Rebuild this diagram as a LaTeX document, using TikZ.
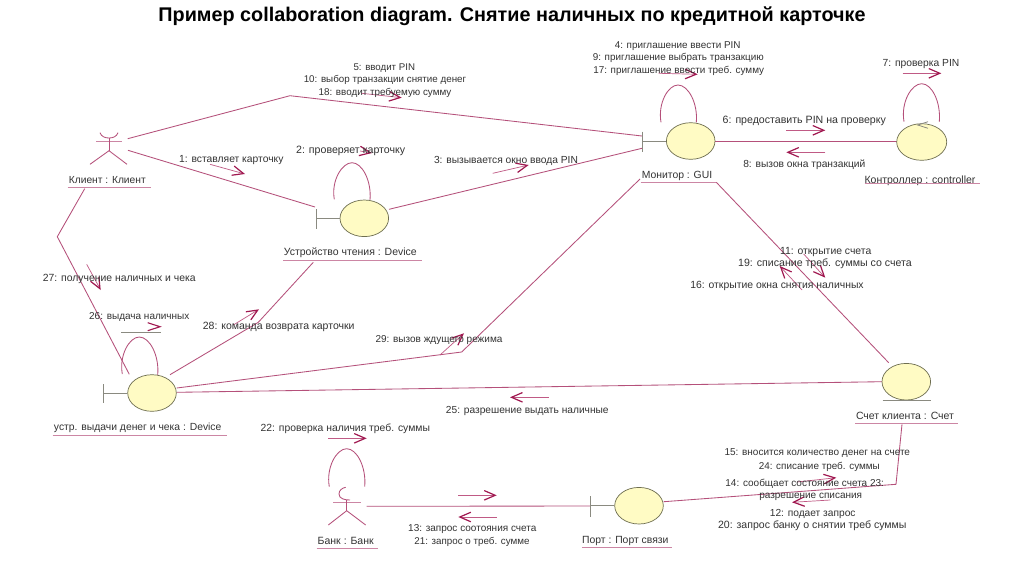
\documentclass[tikz,border=0pt]{standalone}
\usepackage{fontspec}
\setmainfont{Liberation Sans}
\usetikzlibrary{arrows.meta,shapes.geometric}
\definecolor{assocc}{HTML}{B5507A}
\definecolor{headc}{HTML}{A01850}
\definecolor{shaftc}{HTML}{C05A85}
\definecolor{fillc}{HTML}{FFFBC4}
\definecolor{edgec}{HTML}{6E6E50}
\definecolor{barc}{HTML}{8A8A80}
\definecolor{txtc}{HTML}{333333}
\definecolor{underc}{HTML}{CC86A4}
\tikzset{
  assoc/.style={draw=assocc,line width=0.85pt},
  stem/.style={draw=barc,line width=0.75pt},
  msg/.style={draw=shaftc,line width=0.7pt,-{Straight Barb[length=11pt,width=9.5pt,line width=1.2pt,color=headc]}},
  obj/.style={ellipse,draw=edgec,fill=fillc,line width=0.7pt,minimum width=48.6pt,minimum height=36.6pt,inner sep=0pt},
  lbl/.style={text=txtc,font=\fontsize{#1}{12}\selectfont,inner sep=0pt,anchor=center,yshift=-0.8pt},
  lbl/.default=10.2,
  under/.style={draw=underc,line width=0.8pt},
  ttl/.style={text=black,font=\fontsize{19.8}{22}\bfseries\selectfont,inner sep=0pt}
}
\newcommand{\msgarrow}[3]{\coordinate (#1a) at #2; \coordinate (#1b) at #3; \draw[msg] (#1a) -- (#1b);}
\newcommand{\selfloop}[4]{\coordinate (#1a) at #2; \coordinate (#1t) at #3; \coordinate (#1b) at #4;
  \draw[assoc] (#1a) to[out=100,in=180,out looseness=1.2,in looseness=0.62] (#1t) to[out=0,in=85,out looseness=0.62,in looseness=1.2] (#1b);}
\newcommand{\uline}[3]{\coordinate (#1a) at #2; \coordinate (#1b) at #3; \draw[under] (#1a) -- (#1b);}
\begin{document}
\begin{tikzpicture}[x=1pt,y=-1pt]
\useasboundingbox (0,0) rectangle (1024,574);
\fill[white] (0,0) rectangle (1024,574);
\node[ttl] (title) at (512,16.5) {Пример collaboration diagram. Снятие наличных по кредитной карточке};

% waypoints
\coordinate (c1) at (127.7,138.7); \coordinate (c1w) at (290,95.7); \coordinate (mTop) at (642,136);
\coordinate (c2) at (128,150.3); \coordinate (dL) at (315,207);
\coordinate (c3) at (84.7,188.7); \coordinate (c3w) at (57.3,236.7); \coordinate (pTop) at (129.3,374.3);
\coordinate (dR) at (389,209.3); \coordinate (mBot) at (642,148.3);
\coordinate (dB) at (313.3,262.3); \coordinate (dBw) at (258.3,322.3); \coordinate (pR1) at (170,374.7);
\coordinate (mL) at (640,179); \coordinate (mLw) at (461.7,352); \coordinate (pR2) at (176.7,388);
\coordinate (mU) at (716.3,182.3); \coordinate (aT) at (888.7,362.7);
\coordinate (pR3) at (176.7,392.3); \coordinate (aL) at (882,381.7);
\coordinate (aB) at (902,424.3); \coordinate (aBw) at (896,484.3); \coordinate (oR) at (663.7,501.7);
\coordinate (bR) at (366.7,506.3); \coordinate (oL) at (590.7,506);
\coordinate (mR) at (715,141); \coordinate (kL) at (897,141);

% associations
\draw[assoc] (c1) -- (c1w) -- (mTop);
\draw[assoc] (c2) -- (dL);
\draw[assoc] (c3) -- (c3w) -- (pTop);
\draw[assoc] (dR) -- (mBot);
\draw[assoc] (dB) -- (dBw) -- (pR1);
\draw[assoc] (mL) -- (mLw) -- (pR2);
\draw[assoc] (mU) -- (aT);
\draw[assoc] (pR3) -- (aL);
\draw[assoc] (aB) -- (aBw) -- (oR);
\draw[assoc] (bR) -- (oL);
\draw[assoc] (mR) -- (kL);

% self loops
\selfloop{ld}{(334.3,199.3)}{(352,162.7)}{(370,200)}
\selfloop{lm}{(661,122.3)}{(678,85)}{(696.3,122.3)}
\selfloop{lk}{(904,121.7)}{(921.7,83.7)}{(939.3,121.7)}
\selfloop{lp}{(122.3,374)}{(139.3,337)}{(157.7,375)}
\selfloop{lb}{(329.3,486.7)}{(346.7,448.7)}{(364.7,486.7)}

% objects
\node[obj] (dev) at (364.3,218.3) {};
\node[obj] (mon) at (690.7,141) {};
\node[obj,minimum width=50pt] (ctl) at (921.7,142) {};
\node[obj] (acc) at (906.3,381.7) {};
\node[obj] (prt) at (639,505.7) {};
\node[obj] (pay) at (152,393) {};

% boundary bars
\coordinate (dbT) at (316,209); \coordinate (dbB) at (316,229); \coordinate (dbM) at (316,218.3);
\draw[stem] (dbT) -- (dbB); \draw[stem] (dbM) -- (dev);
\coordinate (mbT) at (642,131.7); \coordinate (mbB) at (642,151.7); \coordinate (mbM) at (642,141);
\draw[stem] (mbT) -- (mbB); \draw[stem] (mbM) -- (mon);
\coordinate (obT) at (590.7,496); \coordinate (obB) at (590.7,516.7); \coordinate (obM) at (590.7,505.7);
\draw[stem] (obT) -- (obB); \draw[stem] (obM) -- (prt);
\coordinate (pbT) at (103.7,384.3); \coordinate (pbB) at (103.7,403.3); \coordinate (pbM) at (103.7,393);
\draw[stem] (pbT) -- (pbB); \draw[stem] (pbM) -- (pay);
\coordinate (acL) at (882.7,400.3); \coordinate (acR) at (931,400.3);
\draw[stem] (acL) -- (acR);

% actor client
\coordinate (h1a) at (100,132.7); \coordinate (h1b) at (118,132.7); \coordinate (h1c) at (109,138);
\draw[assoc] (h1a) to[out=-70,in=180] (h1c) to[out=0,in=-110] (h1b);
\coordinate (a1a) at (96,141.7); \coordinate (a1b) at (122,141.7); \draw[under] (a1a) -- (a1b);
\coordinate (b1) at (109,150.7); \coordinate (l1a) at (90,164.3); \coordinate (l1b) at (127,164.3);
\draw[assoc] (h1c) -- (b1); \draw[assoc] (l1a) -- (b1) -- (l1b);

% actor bank
\coordinate (h2a) at (345.7,487.3); \coordinate (h2c) at (350,500); \coordinate (h2l) at (339,494);
\draw[assoc] (h2a) to[out=190,in=90] (h2l) to[out=-90,in=180] (h2c);
\coordinate (a2a) at (333.3,502.3); \coordinate (a2b) at (360.7,502.3); \draw[under] (a2a) -- (a2b);
\coordinate (h2d) at (346.7,500); \coordinate (b2) at (346.7,510.7); \coordinate (l2a) at (328.3,525); \coordinate (l2b) at (365.7,525);
\draw[assoc] (h2d) -- (b2); \draw[assoc] (l2a) -- (b2) -- (l2b);

% message arrows
\msgarrow{m5}{(361.7,93.3)}{(401.7,97.7)}
\msgarrow{m1}{(210,164.3)}{(245,174)}
\msgarrow{m2}{(360,151)}{(372,153)}
\msgarrow{m3}{(492.7,173.3)}{(528.7,165)}
\msgarrow{m4}{(658.7,73.3)}{(697.7,74.3)}
\msgarrow{m7}{(902.7,73.3)}{(941.3,73.3)}
\msgarrow{m6}{(786.3,130.3)}{(825.3,130.3)}
\msgarrow{m8}{(825.3,152.3)}{(786.3,152.3)}
\msgarrow{m11}{(803.7,254)}{(825.3,277.7)}
\msgarrow{m19}{(802,290)}{(779.7,266)}
\msgarrow{m27}{(86.7,264.3)}{(100.7,290)}
\msgarrow{m28}{(233.3,325)}{(259,309.3)}
\msgarrow{m29}{(440,355)}{(464,333.3)}
\msgarrow{m25}{(548.7,397.3)}{(510,397.3)}
\msgarrow{m22}{(328.3,438.3)}{(366.7,438.3)}
\msgarrow{m13}{(458.3,495.3)}{(496.7,495.3)}
\msgarrow{m21}{(496.7,517)}{(458.3,517)}
\msgarrow{m15}{(797,482)}{(836.3,477.7)}
\msgarrow{m14}{(830.3,500)}{(792,502.3)}
% message 26: grey shaft with detached head
\coordinate (s26a) at (121,332.7); \coordinate (s26b) at (161.3,332.7);
\draw[stem,line width=0.9pt] (s26a) -- (s26b);
\coordinate (h26a) at (147.7,322.7); \coordinate (h26t) at (160,326.7); \coordinate (h26b) at (147.7,330.7);
\draw[headc,line width=1.1pt] (h26a) -- (h26t) -- (h26b);
% small head on controller
\coordinate (sk1) at (928,121.7); \coordinate (sk2) at (917.7,125); \coordinate (sk3) at (928,128.3);
\draw[barc,line width=0.8pt] (sk1) -- (sk2) -- (sk3);

% object labels and underlines
\node[lbl=10.25] (tc) at (107.3,179.7) {Клиент : Клиент}; \uline{uc}{(67.7,187.7)}{(151,187.7)}
\node[lbl=10.5] (td) at (350.3,252) {Устройство чтения : Device}; \uline{ud}{(283.3,260)}{(421.7,260)}
\node[lbl=10.4] (tm) at (677,174.7) {Монитор : GUI}; \uline{um}{(640.7,182.3)}{(716.3,182.3)}
\node[lbl=10.5] (tk) at (920,180.3) {Контроллер : controller}; \uline{uk}{(864.7,183.7)}{(980.3,183.7)}
\node[lbl=10.5] (ta) at (905,415.3) {Счет клиента : Счет}; \uline{ua}{(855.3,423.3)}{(957.7,423.3)}
\node[lbl=10.35] (tp) at (137.7,427) {устр. выдачи денег и чека : Device}; \uline{up}{(52.7,435)}{(227.3,435)}
\node[lbl=10.5] (tb) at (345.7,540.3) {Банк : Банк}; \uline{ub}{(316.7,548.3)}{(378.3,548.3)}
\node[lbl=10.4] (to) at (625.3,540) {Порт : Порт связи}; \uline{uo}{(582,547.3)}{(672,547.3)}

% message labels
\node[lbl=9.7] (t5) at (384.3,67) {5: вводит PIN};
\node[lbl=9.8] (t10) at (385,79) {10: выбор транзакции снятие денег};
\node[lbl=9.85] (t18) at (385,92) {18: вводит требуемую сумму};
\node[lbl=10.6] (t2) at (350.7,149.7) {2: проверяет карточку};
\node[lbl=10.3] (t1) at (231.3,159.7) {1: вставляет карточку};
\node[lbl=10.25] (t3) at (506,160) {3: вызывается окно ввода PIN};
\node[lbl=9.9] (t4) at (677.7,45.3) {4: приглашение ввести PIN};
\node[lbl=9.9] (t9) at (678.3,57) {9: приглашение выбрать транзакцию};
\node[lbl=9.9] (t17) at (678.7,70.3) {17: приглашение ввести треб. сумму};
\node[lbl=10.3] (t7) at (921,63) {7: проверка PIN};
\node[lbl=10.6] (t6) at (804.3,120.3) {6: предоставить PIN на проверку};
\node[lbl=10.25] (t8) at (804.3,163.7) {8: вызов окна транзакций};
\node[lbl=10.4] (t11) at (825.7,250.7) {11: открытие счета};
\node[lbl=10.6] (t19) at (825,263) {19: списание треб. суммы со счета};
\node[lbl=10.4] (t16) at (777,285.3) {16: открытие окна снятия наличных};
\node[lbl=10.4] (t27) at (119.3,278) {27: получение наличных и чека};
\node[lbl=10] (t26) at (139.3,316.3) {26: выдача наличных};
\node[lbl=10.5] (t28) at (278.7,326) {28: команда возврата карточки};
\node[lbl=10] (t29) at (439,339.3) {29: вызов ждущего режима};
\node[lbl=10.2] (t25) at (527.3,409.7) {25: разрешение выдать наличные};
\node[lbl=10.35] (t22) at (345.3,428.3) {22: проверка наличия треб. суммы};
\node[lbl=10] (t13) at (472.3,528.3) {13: запрос соотояния счета};
\node[lbl=9.8] (t21) at (472,540.7) {21: запрос о треб. сумме};
\node[lbl=10] (t15) at (817.3,452.7) {15: вносится количество денег на счете};
\node[lbl=9.9] (t24) at (819.3,466) {24: списание треб. суммы};
\node[lbl=10] (t14) at (804.7,483) {14: сообщает состояние счета 23:};
\node[lbl=10] (t23) at (810.7,495.7) {разрешение списания};
\node[lbl=10.2] (t12) at (812.7,513) {12: подает запрос};
\node[lbl=10.55] (t20) at (812.3,524.7) {20: запрос банку о снятии треб суммы};
\end{tikzpicture}
\end{document}
